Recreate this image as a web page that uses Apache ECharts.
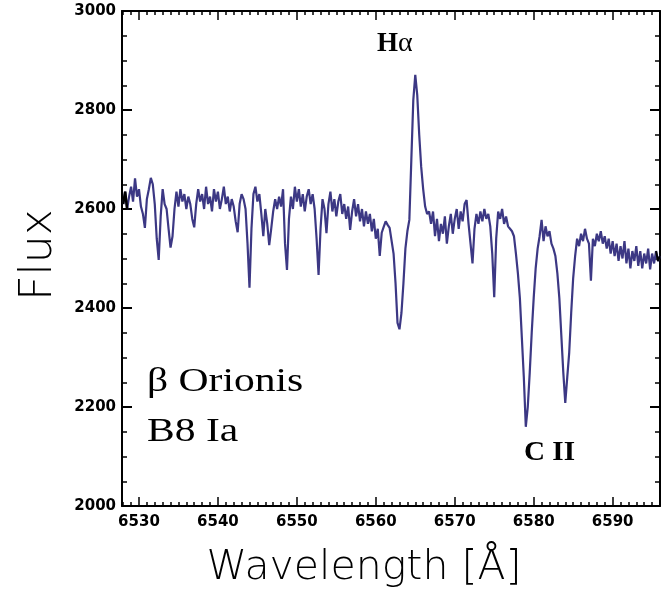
<!DOCTYPE html>
<html>
<head>
<meta charset="utf-8">
<script src="https://cdn.jsdelivr.net/npm/echarts@6/dist/echarts.min.js"></script>
<style>
  html, body { margin: 0; padding: 0; background: #fff; }
  #main { width: 665px; height: 590px; }
</style>
</head>
<body>
<div id="main"></div>
<script>
// spectrum of beta Orionis around H-alpha (0.25 A steps)
const wavelength = [
  6528.00, 6528.25, 6528.50, 6528.75, 6529.00, 6529.25, 6529.50, 6529.75,
  6530.00, 6530.25, 6530.50, 6530.75, 6531.00, 6531.25, 6531.50, 6531.75,
  6532.00, 6532.25, 6532.50, 6532.75, 6533.00, 6533.25, 6533.50, 6533.75,
  6534.00, 6534.25, 6534.50, 6534.75, 6535.00, 6535.25, 6535.50, 6535.75,
  6536.00, 6536.25, 6536.50, 6536.75, 6537.00, 6537.25, 6537.50, 6537.75,
  6538.00, 6538.25, 6538.50, 6538.75, 6539.00, 6539.25, 6539.50, 6539.75,
  6540.00, 6540.25, 6540.50, 6540.75, 6541.00, 6541.25, 6541.50, 6541.75,
  6542.00, 6542.25, 6542.50, 6542.75, 6543.00, 6543.25, 6543.50, 6543.75,
  6544.00, 6544.25, 6544.50, 6544.75, 6545.00, 6545.25, 6545.50, 6545.75,
  6546.00, 6546.25, 6546.50, 6546.75, 6547.00, 6547.25, 6547.50, 6547.75,
  6548.00, 6548.25, 6548.50, 6548.75, 6549.00, 6549.25, 6549.50, 6549.75,
  6550.00, 6550.25, 6550.50, 6550.75, 6551.00, 6551.25, 6551.50, 6551.75,
  6552.00, 6552.25, 6552.50, 6552.75, 6553.00, 6553.25, 6553.50, 6553.75,
  6554.00, 6554.25, 6554.50, 6554.75, 6555.00, 6555.25, 6555.50, 6555.75,
  6556.00, 6556.25, 6556.50, 6556.75, 6557.00, 6557.25, 6557.50, 6557.75,
  6558.00, 6558.25, 6558.50, 6558.75, 6559.00, 6559.25, 6559.50, 6559.75,
  6560.00, 6560.25, 6560.50, 6560.75, 6561.00, 6561.25, 6561.50, 6561.75,
  6562.00, 6562.25, 6562.50, 6562.75, 6563.00, 6563.25, 6563.50, 6563.75,
  6564.00, 6564.25, 6564.50, 6564.75, 6565.00, 6565.25, 6565.50, 6565.75,
  6566.00, 6566.25, 6566.50, 6566.75, 6567.00, 6567.25, 6567.50, 6567.75,
  6568.00, 6568.25, 6568.50, 6568.75, 6569.00, 6569.25, 6569.50, 6569.75,
  6570.00, 6570.25, 6570.50, 6570.75, 6571.00, 6571.25, 6571.50, 6571.75,
  6572.00, 6572.25, 6572.50, 6572.75, 6573.00, 6573.25, 6573.50, 6573.75,
  6574.00, 6574.25, 6574.50, 6574.75, 6575.00, 6575.25, 6575.50, 6575.75,
  6576.00, 6576.25, 6576.50, 6576.75, 6577.00, 6577.25, 6577.50, 6577.75,
  6578.00, 6578.25, 6578.50, 6578.75, 6579.00, 6579.25, 6579.50, 6579.75,
  6580.00, 6580.25, 6580.50, 6580.75, 6581.00, 6581.25, 6581.50, 6581.75,
  6582.00, 6582.25, 6582.50, 6582.75, 6583.00, 6583.25, 6583.50, 6583.75,
  6584.00, 6584.25, 6584.50, 6584.75, 6585.00, 6585.25, 6585.50, 6585.75,
  6586.00, 6586.25, 6586.50, 6586.75, 6587.00, 6587.25, 6587.50, 6587.75,
  6588.00, 6588.25, 6588.50, 6588.75, 6589.00, 6589.25, 6589.50, 6589.75,
  6590.00, 6590.25, 6590.50, 6590.75, 6591.00, 6591.25, 6591.50, 6591.75,
  6592.00, 6592.25, 6592.50, 6592.75, 6593.00, 6593.25, 6593.50, 6593.75,
  6594.00, 6594.25, 6594.50, 6594.75, 6595.00, 6595.25, 6595.50, 6595.75,
  6596.00
];
const flux = [
  2610, 2635, 2600, 2625, 2645, 2615, 2662, 2625,
  2640, 2605, 2590, 2562, 2620, 2640, 2663, 2650,
  2610, 2540, 2497, 2585, 2640, 2610, 2600, 2560,
  2522, 2545, 2600, 2635, 2605, 2640, 2615, 2630,
  2600, 2625, 2610, 2580, 2563, 2610, 2640, 2615,
  2630, 2600, 2645, 2610, 2625, 2595, 2640, 2615,
  2635, 2600, 2620, 2645, 2610, 2625, 2595, 2620,
  2605, 2575, 2553, 2610, 2630, 2620, 2600, 2530,
  2441, 2560, 2630, 2645, 2615, 2630, 2590, 2545,
  2600, 2570, 2527, 2560, 2595, 2620, 2600, 2625,
  2605, 2640, 2530, 2477, 2580, 2625, 2600, 2645,
  2615, 2640, 2605, 2630, 2595, 2625, 2640, 2610,
  2630, 2600, 2540, 2467, 2560, 2620, 2600, 2551,
  2610, 2635, 2595, 2620, 2585, 2615, 2630, 2590,
  2610, 2580, 2605, 2558, 2595, 2620, 2585, 2610,
  2575, 2600, 2565, 2595, 2570, 2590, 2555, 2580,
  2540, 2560, 2505, 2552, 2564, 2575, 2568, 2562,
  2558, 2510, 2450, 2370, 2357, 2390, 2450, 2520,
  2555, 2578, 2699, 2820, 2871, 2830, 2750, 2685,
  2640, 2605, 2590, 2595, 2570, 2595, 2545, 2580,
  2535, 2570, 2550, 2585, 2530, 2565, 2590, 2550,
  2580, 2600, 2560, 2595, 2575, 2610, 2618, 2570,
  2530, 2490, 2560, 2590, 2570, 2595, 2575, 2600,
  2580, 2590, 2565, 2510, 2422, 2540, 2595, 2580,
  2600, 2570, 2585, 2565, 2560, 2555, 2545, 2510,
  2470, 2420, 2340, 2260, 2160, 2200, 2270, 2350,
  2420, 2480, 2520, 2545, 2578, 2535, 2565, 2545,
  2555, 2530, 2520, 2505, 2470, 2420, 2345, 2270,
  2208, 2260, 2310, 2390, 2460, 2505, 2540, 2525,
  2550, 2535, 2560, 2540, 2530, 2455, 2540, 2525,
  2550, 2535, 2555, 2530, 2545, 2520, 2540, 2510,
  2535, 2505, 2530, 2495, 2525, 2500, 2535, 2490,
  2520, 2480, 2515, 2495, 2525, 2485, 2515, 2480,
  2510, 2490, 2520, 2478, 2510, 2490, 2515, 2495,
  2505
];

const xMajorTicks = [6530, 6540, 6550, 6560, 6570, 6580, 6590];
const xMinorTicks = [
  6528, 6529, 6531, 6532, 6533, 6534, 6535, 6536, 6537, 6538, 6539,
  6541, 6542, 6543, 6544, 6545, 6546, 6547, 6548, 6549,
  6551, 6552, 6553, 6554, 6555, 6556, 6557, 6558, 6559,
  6561, 6562, 6563, 6564, 6565, 6566, 6567, 6568, 6569,
  6571, 6572, 6573, 6574, 6575, 6576, 6577, 6578, 6579,
  6581, 6582, 6583, 6584, 6585, 6586, 6587, 6588, 6589,
  6591, 6592, 6593, 6594, 6595
];

const X_MIN = 6527.85;
const X_MAX = 6596.0;

const chart = echarts.init(document.getElementById('main'), null, { renderer: 'canvas' });

const points = wavelength.map((w, i) => [w, flux[i]]);

const axisColor = '#000';
const labelFont = { color: '#000', fontFamily: 'DejaVu Sans', fontWeight: 'bold', fontSize: 15 };
const plain = v => String(v);

function xAxisDef(position, ticks, length, withLabels, withLine) {
  return {
    type: 'value',
    position: position,
    min: X_MIN,
    max: X_MAX,
    axisLine: { show: withLine, onZero: false, lineStyle: { color: axisColor, width: 2 } },
    axisTick: { show: true, inside: true, length: length, customValues: ticks, lineStyle: { color: axisColor, width: 1.5 } },
    axisLabel: withLabels ? Object.assign({ show: true, margin: 9, customValues: ticks, formatter: plain }, labelFont) : { show: false },
    splitLine: { show: false }
  };
}

function yAxisDef(position, withLabels) {
  return {
    type: 'value',
    position: position,
    min: 2000,
    max: 3000,
    interval: 200,
    axisLine: { show: true, onZero: false, lineStyle: { color: axisColor, width: 2 } },
    axisTick: { show: true, inside: true, length: 10, lineStyle: { color: axisColor, width: 2 } },
    minorTick: { show: true, splitNumber: 4, length: 5, lineStyle: { color: axisColor, width: 1.5 } },
    axisLabel: withLabels ? Object.assign({ show: true, margin: 6, formatter: plain }, labelFont) : { show: false },
    splitLine: { show: false }
  };
}

const option = {
  backgroundColor: '#fff',
  animation: false,
  grid: { left: 122, right: 5, top: 11, bottom: 84, containLabel: false },
  xAxis: [
    xAxisDef('bottom', xMajorTicks, 9, true, true),
    xAxisDef('bottom', xMinorTicks, 4, false, false),
    xAxisDef('top', xMajorTicks, 9, false, true),
    xAxisDef('top', xMinorTicks, 4, false, false)
  ],
  yAxis: [
    yAxisDef('left', true),
    yAxisDef('right', false)
  ],
  series: [
    {
      type: 'line',
      data: points,
      showSymbol: false,
      lineStyle: { color: '#3c3884', width: 2.2 },
      z: 3
    },
    {
      // black bits at both ends of the trace
      type: 'line',
      data: points.filter(p => p[0] <= 6528.5),
      showSymbol: false,
      lineStyle: { color: '#000', width: 2.5 },
      z: 4
    },
    {
      type: 'line',
      data: points.filter(p => p[0] >= 6595.5),
      showSymbol: false,
      lineStyle: { color: '#000', width: 2 },
      z: 4
    }
  ],
  graphic: [
    {
      type: 'text', x: 40, y: 255, rotation: Math.PI / 2,
      style: { text: 'Flux', fontFamily: 'DejaVu Sans', fontWeight: 200, fontSize: 44, fill: '#000', align: 'center', verticalAlign: 'middle' }
    },
    {
      type: 'text', x: 364, y: 568,
      style: { text: 'Wavelength [Å]', fontFamily: 'DejaVu Sans', fontWeight: 200, fontSize: 41, fill: '#000', align: 'center', verticalAlign: 'middle' }
    },
    {
      type: 'text', x: 377, y: 58,
      style: {
        text: '{h|H}{a|α}', verticalAlign: 'bottom',
        rich: {
          h: { fontFamily: 'Liberation Serif', fontWeight: 'bold', fontSize: 27, fill: '#000' },
          a: { fontFamily: 'Liberation Serif', fontSize: 28, fill: '#000' }
        }
      }
    },
    {
      type: 'text', x: 524, y: 467, scaleX: 1.08,
      style: { text: 'C II', fontFamily: 'Liberation Serif', fontWeight: 'bold', fontSize: 27, fill: '#000', verticalAlign: 'bottom' }
    },
    {
      type: 'text', x: 147, y: 399, scaleX: 1.26,
      style: { text: 'β Orionis', fontFamily: 'Liberation Serif', fontSize: 33, fill: '#000', verticalAlign: 'bottom' }
    },
    {
      type: 'text', x: 147, y: 449, scaleX: 1.26,
      style: { text: 'B8 Ia', fontFamily: 'Liberation Serif', fontSize: 33, fill: '#000', verticalAlign: 'bottom' }
    },
    {
      // tail of a clipped title letter at the top edge
      type: 'text', x: 208, y: 0,
      style: { text: 'y', fontFamily: 'Liberation Serif', fontWeight: 'bold', fontStyle: 'italic', fontSize: 30, fill: '#000', verticalAlign: 'bottom' }
    }
  ]
};

chart.setOption(option);
</script>
</body>
</html>
